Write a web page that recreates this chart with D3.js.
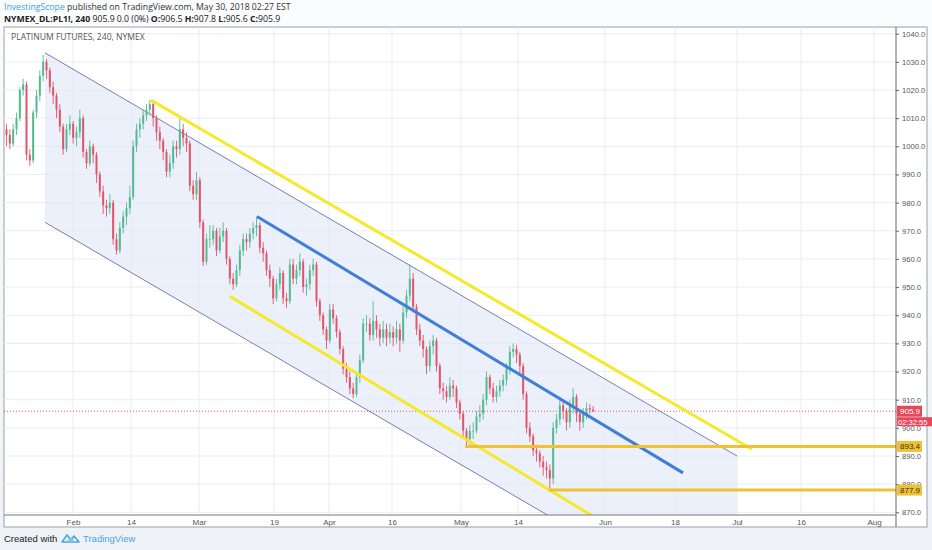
<!DOCTYPE html>
<html><head><meta charset="utf-8">
<script src="https://cdn.jsdelivr.net/npm/d3@7"></script>
<style>
html,body{margin:0;padding:0;}
body{width:932px;height:550px;overflow:hidden;background:linear-gradient(#fbfcfd,#eef2f6);}
svg{display:block;}
</style></head>
<body>
<svg id="c" width="932" height="550"></svg>
<script>
// ---------- data ----------
const firstOpen = 1006;
const closes = [1004,1001,1006,1010,1020,1022,997,995,1012,1018,1025,1030,1027,1021,1018,1013,1007,999,1006,1008,
1003,1005,1010,998,994,1000,997,990,984,979,978,980,967,963,971,975,978,982,1000,1006,
1008,1011,1013,1015,1010,1005,1002,998,991,994,1000,999,1006,1003,1001,986,983,988,973,959,
967,967,970,963,968,970,960,953,951,956,963,967,966,969,971,972,964,962,956,953,
946,951,955,946,945,958,953,956,959,950,951,956,958,945,940,935,931,942,939,934,
928,921,918,914,912,918,924,937,937,933,938,935,932,935,932,934,932,935,931,941,
947,953,943,935,931,928,922,929,931,922,914,913,911,915,914,909,905,899,896,899,
899,904,905,910,918,914,911,913,915,917,921,927,928,926,922,912,900,897,892,891,
888,886,885,882,900,903,908,906,902,908,911,905,902,905,907,906.5,905.9];
const highs = [1008,1006,1008,1012,1021,1024,1023,999,1013,1020,1027,1032.5,1031,1028,1023,1019,1015,1008,1008,1011,
1009,1007,1013,1011,999,1002,1001,998,991,986,981,983,981,969,973,977,980,986,1002,1008,
1010,1013,1015,1016.5,1016,1011,1007,1003,999,997,1002,1002,1010,1008,1005,1002,988,991,989,974,
969,972,972,971,971,973,971,961,955,958,965,969,969,971,973,975,973,966,963,958,
954,953,957,956,948,960,960,958,962,960,953,958,960,959,946,941,936,944,944,940,
935,929,923,920,916,920,926,939,940,939,945,940,937,938,937,937,936,938,937,943,
949,958,955,944,937,933,929,931,933,932,923,916,915,918,917,915,910,906,900,901,
902,906,908,912,920,919,916,915,917,919,923,929,930,929.5,927,923,913,902,898,894,
892,890,888,887,902,905,911,910,907,910,914,912,906,907,909,908.5,907.8];
const lows = [1000,999,1000,1004,1009,1018,995,993,994,1010,1016,1023,1024,1019,1015,1010,1005,997,998,1004,
1001,1000,1003,996,992,993,994,987,982,976,975,976,965,961.5,962,969,972,976,981,998,
1003,1006,1009,1011,1007,1002,999,995,989,989,992,996,997,1000,998,984,981,981,971,957.5,
958,964,965,961,962,966,958,951,949,950,954,961,963,964,967,968,962,959,954,950,
944,945,949,944,942.5,944,951,951,954,948,947,949,954,943,938,933,928,930,937,932,
926,919,916,912,910.5,911,916,923,934,931,931,932,929,930,929,930,929,930,927,930,
939,945,941,933,929,925,919,920,926,920,912,910,909,910,911,907,903,897,893.4,894,
896,898,902,903,908,912,909,909,911,913,915,919,925,923,919,910,898,895,890,888,
886,883,882,877.9,880,898,901,903,899,900,905,902,899,900,903,905,905.6];

const tickLabels = ["Feb","14","Mar","19","Apr","16","May","14","Jun","18","Jul","16","Aug"];
const tickPos    = [19.95,37.35,57.75,80.25,96.75,115.65,136.35,153.45,179.55,200.55,219.15,238.35,260.25];
const priceTicks = [870,880,890,900,910,920,930,940,950,960,970,980,990,1000,1010,1020,1030,1040];

// annotation drawings: [barIndex, price]
const channelTop    = [[11.55,1033.2],[219.15,890]];
const channelBottom = [[11.55,973],[219.15,829.8]];
const yellowUpper   = [[43.35,1016.4],[223.65,892.4]];
const yellowLower   = [[67.05,946.7],[177.0,867.8]];
const blueLine      = [[75.15,975.1],[202.95,884]];
const goldLevels    = [{from:137.6,price:893.4},{from:162.7,price:877.9}];
const lastPrice = 905.9;

// ---------- layout ----------
const svg = d3.select("#c");
const plot = {l:4,t:27,r:896,b:515};
const x = d3.scaleLinear().domain([-0.75,266.85]).range([plot.l,plot.r]);
const y = d3.scaleLinear().domain([870,1040]).range([512.3,33.7]);

// header
const hdr = svg.append("text").attr("x",4).attr("y",10).attr("font-family","Open Sans, sans-serif").attr("font-size",8.7).attr("fill","#333");
hdr.append("tspan").attr("fill","#3ea2da").text("InvestingScope");
hdr.append("tspan").text(" published on TradingView.com, May 30, 2018 02:27 EST");
const hdr2 = svg.append("text").attr("x",4).attr("y",21.5).attr("font-family","Open Sans, sans-serif").attr("font-size",8.7).attr("fill","#222");
hdr2.append("tspan").attr("font-weight","bold").text("NYMEX_DL:PL1!, 240");
hdr2.append("tspan").text(" 905.9 0.0 (0%) ");
[["O:","906.5 "],["H:","907.8 "],["L:","905.6 "],["C:","905.9"]].forEach(p=>{
  hdr2.append("tspan").attr("font-weight","bold").text(p[0]);
  hdr2.append("tspan").text(p[1]);
});

// frame
svg.append("rect").attr("x",4).attr("y",27).attr("width",923).attr("height",500).attr("fill","#fff").attr("stroke","#9aa0a6").attr("stroke-width",1);

// grid
const grid = svg.append("g");
grid.selectAll("line.h").data(priceTicks).join("line")
  .attr("x1",plot.l).attr("x2",plot.r).attr("y1",d=>y(d)).attr("y2",d=>y(d))
  .attr("stroke","#eaedf1").attr("stroke-width",1);
grid.selectAll("line.v").data(tickPos).join("line")
  .attr("x1",d=>x(d)).attr("x2",d=>x(d)).attr("y1",plot.t).attr("y2",plot.b)
  .attr("stroke","#eaedf1").attr("stroke-width",1);

svg.append("defs").append("clipPath").attr("id","clip").append("rect")
  .attr("x",plot.l).attr("y",plot.t).attr("width",plot.r-plot.l).attr("height",plot.b-plot.t);
const g = svg.append("g").attr("clip-path","url(#clip)");

// channel fill
const chPoly = [channelTop[0],channelTop[1],channelBottom[1],channelBottom[0]];
g.append("path").attr("d","M"+chPoly.map(p=>[x(p[0]),y(p[1])].join(",")).join("L")+"Z")
  .attr("fill","#e3e9f8").attr("fill-opacity",0.7);
const line = d3.line().x(d=>x(d[0])).y(d=>y(d[1]));
[channelTop,channelBottom].forEach(l=>g.append("path").attr("d",line(l)).attr("stroke","#7d7bb0").attr("stroke-width",1).attr("fill","none"));

// last price dotted line
g.append("line").attr("x1",plot.l).attr("x2",plot.r).attr("y1",y(lastPrice)).attr("y2",y(lastPrice))
  .attr("stroke","#e8505f").attr("stroke-width",1).attr("stroke-dasharray","1,2");

// candles
const bars = closes.map((c,i)=>({i,o:i?closes[i-1]:firstOpen,c,h:highs[i],l:lows[i]}));
const up="#55b992", dn="#e2566a";
const cg = g.append("g");
cg.selectAll("line").data(bars).join("line")
  .attr("x1",d=>x(d.i)).attr("x2",d=>x(d.i)).attr("y1",d=>y(d.h)).attr("y2",d=>y(d.l))
  .attr("stroke",d=>d.c>=d.o?up:dn).attr("stroke-width",0.9);
cg.selectAll("rect").data(bars).join("rect")
  .attr("x",d=>x(d.i)-1).attr("width",2)
  .attr("y",d=>y(Math.max(d.o,d.c))).attr("height",d=>Math.max(0.8,Math.abs(y(d.o)-y(d.c))))
  .attr("fill",d=>d.c>=d.o?up:dn);

// trend lines
[yellowUpper,yellowLower].forEach(l=>g.append("path").attr("d",line(l)).attr("stroke","#f6e82a").attr("stroke-width",3).attr("fill","none"));
g.append("path").attr("d",line(blueLine)).attr("stroke","#3f7fd8").attr("stroke-width",3).attr("fill","none");
goldLevels.forEach(d=>g.append("line").attr("x1",x(d.from)).attr("x2",plot.r).attr("y1",y(d.price)).attr("y2",y(d.price))
  .attr("stroke","#f0c232").attr("stroke-width",3));

// title
svg.append("text").attr("x",11).attr("y",40).attr("font-family","Open Sans, sans-serif").attr("font-size",8.6).attr("fill","#555").text("PLATINUM FUTURES, 240, NYMEX");

// axes
const ya = svg.append("g").attr("transform",`translate(${plot.r},0)`)
  .call(d3.axisRight(y).tickValues(priceTicks).tickFormat(d3.format(".1f")).tickSize(3).tickPadding(3));
ya.select(".domain").remove();
ya.selectAll("line").attr("stroke","#666");
ya.selectAll("text").attr("font-family","Liberation Sans, Arial, sans-serif").attr("font-size",7.6).attr("fill","#555");
svg.append("line").attr("x1",plot.r).attr("x2",plot.r).attr("y1",plot.t).attr("y2",527).attr("stroke","#666");

const xa = svg.append("g").attr("transform",`translate(0,${plot.b})`)
  .call(d3.axisBottom(x).tickValues(tickPos).tickFormat((d,i)=>tickLabels[i]).tickSize(0).tickPadding(4));
xa.select(".domain").remove();
xa.selectAll("text").attr("font-family","Liberation Sans Narrow, Liberation Sans, Arial, sans-serif").attr("font-size",8).attr("fill","#555");
svg.append("line").attr("x1",plot.l).attr("x2",plot.r).attr("y1",plot.b).attr("y2",plot.b).attr("stroke","#777");

// price labels
function tag(price,txt,fill,color){
  const yy=y(price);
  svg.append("rect").attr("x",897).attr("y",yy-5.5).attr("width",25).attr("height",11).attr("fill",fill);
  svg.append("text").attr("x",900).attr("y",yy+3).attr("font-family","Liberation Sans, Arial, sans-serif").attr("font-size",8).attr("fill",color).text(txt);
}
tag(893.4,"893.4","#f0c232","#333");
tag(877.9,"877.9","#f0c232","#333");
tag(lastPrice,"905.9","#e8475a","#fff");
svg.append("rect").attr("x",897).attr("y",y(lastPrice)+6).attr("width",40).attr("height",9).attr("fill","#e8475a");
svg.append("text").attr("x",898).attr("y",y(lastPrice)+13.5).attr("font-family","Liberation Sans, Arial, sans-serif").attr("font-size",7.6).attr("fill","#fff").text("02:32:55");

// footer
svg.append("text").attr("x",4).attr("y",542).attr("font-family","Liberation Sans Narrow, Liberation Sans, Arial, sans-serif").attr("font-size",9.5).attr("fill","#222").text("Created with");
const lg = svg.append("g").attr("transform","translate(62,534)");
lg.append("path").attr("d","M0,8 L5,1 L9,6 L12,2 L17,8 Z").attr("fill","none").attr("stroke","#4aa6dd").attr("stroke-width",1.6).attr("stroke-linejoin","round");
lg.append("path").attr("d","M4,8 L9,3 L13,8 Z").attr("fill","#7cc4ec");
svg.append("text").attr("x",83).attr("y",542).attr("font-family","Liberation Sans Narrow, Liberation Sans, Arial, sans-serif").attr("font-size",9.5).attr("fill","#4aa6dd").text("TradingView");
</script>
</body></html>
